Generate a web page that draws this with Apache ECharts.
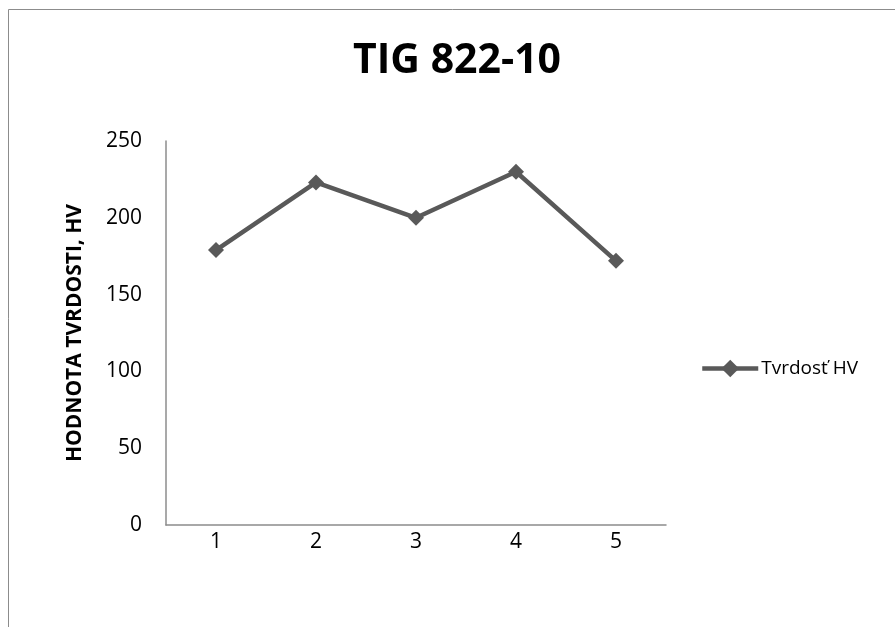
<!DOCTYPE html>
<html><head><meta charset="utf-8">
<script src="https://cdn.jsdelivr.net/npm/echarts@6/dist/echarts.min.js"></script>
<style>html,body{margin:0;padding:0;background:#fff}#c{width:895px;height:627px}</style>
</head><body><div id="c"></div>
<script>
const categories = ['1','2','3','4','5'];
const hardness = [179, 223, 200, 230, 172];
const seriesName = 'Tvrdosť HV';
const chartTitle = 'TIG 822-10';
const yAxisName = 'HODNOTA TVRDOSTI, HV';

const chart = echarts.init(document.getElementById('c'), null, {renderer:'canvas'});
const font = '"Open Sans", sans-serif';
chart.setOption({
  animation: false,
  backgroundColor: '#fff',
  graphic: [{type:'rect', shape:{x:8.5,y:9.5,width:900,height:640}, style:{fill:'none', stroke:'#8c8c8c', lineWidth:1}}],
  title: {text: chartTitle, left: 348, top: 36, textStyle:{fontFamily:font, fontWeight:'bold', fontSize:41, color:'#000'}},
  legend: {data:[seriesName], left: 695, top: 354, itemWidth: 56, itemHeight: 22, itemGap: 4,
    lineStyle:{width:4.5, color:'#595959'},
    textStyle:{fontFamily:font, fontSize:19, color:'#000', padding:[0,0,0,-2]}},
  grid: {left:166, top:141, right:229, bottom:102, containLabel:false},
  xAxis: {type:'category', data: categories, boundaryGap:true,
    axisLine:{lineStyle:{color:'#8c8c8c', width:1.5}}, axisTick:{show:false},
    axisLabel:{fontFamily:font, fontSize:21, color:'#000', margin:7}},
  yAxis: {type:'value', min:0, max:250, interval:50,
    name: yAxisName, nameLocation:'middle', nameGap:80, nameRotate:90,
    nameTextStyle:{fontFamily:font, fontWeight:'bold', fontSize:21, color:'#000'},
    axisLine:{show:true, lineStyle:{color:'#8c8c8c', width:1.5}}, axisTick:{show:false},
    splitLine:{show:false},
    axisLabel:{fontFamily:font, fontSize:21, color:'#000', margin:24}},
  series: [{name: seriesName, type:'line', data: hardness, symbol:'diamond', symbolSize:16,
    lineStyle:{color:'#595959', width:4.5}, itemStyle:{color:'#595959'}}]
});
</script></body></html>
